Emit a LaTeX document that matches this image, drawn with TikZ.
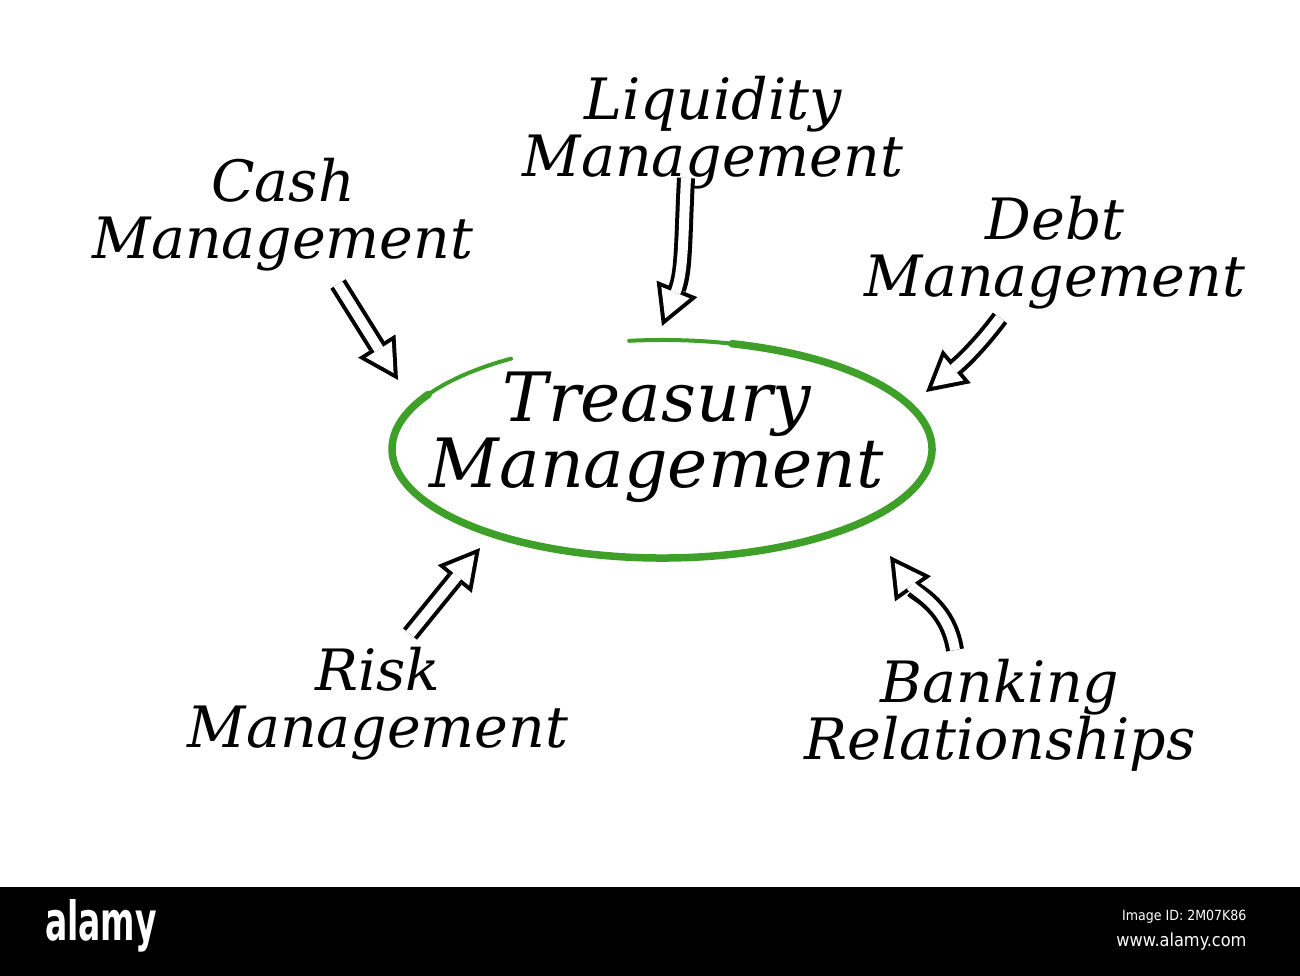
\documentclass[tikz,border=0pt]{standalone}
\usepackage{fontspec}
\setmainfont{DejaVu Serif}
\newfontfamily\bannerfont{DejaVu Sans Condensed}
\usetikzlibrary{arrows.meta,positioning}
\definecolor{ringGreen}{RGB}{62,160,40}

% outlined arrow: black body first, white body on top
\newcommand{\hollowArrow}[3]{%
  \draw[arrowOuter] #1 #2 #3;
  \draw[arrowInner] #1 #2 #3;}

\begin{document}
\begin{tikzpicture}[x=1pt,y=-1pt]
  \tikzstyle{topic} = [align=center, inner sep=0pt, font={\itshape\fontsize{57}{57}\selectfont}]
  \tikzstyle{hub} = [topic, font={\itshape\fontsize{68}{54}\selectfont}]
  \tikzstyle{arrowOuter} = [black, line width=18pt, -{Triangle[length=40pt,width=44pt,line width=0pt]}]
  \tikzstyle{arrowInner} = [white, line width=10pt, shorten >=8.3pt, -{Triangle[length=27.7pt,width=30.5pt,line width=0pt]}]
  \tikzstyle{ring} = [ringGreen, line cap=round];

  \useasboundingbox (0,0) rectangle (1300,976);
  \fill[white] (0,0) rectangle (1300,976);

  \node[hub]   (treasury)  at (657,437) {Treasury\\Management};
  \node[topic] (cash)      at (283,215) {Cash\\Management};
  \node[topic] (liquidity) at (713,133) {Liquidity\\Management};
  \node[topic] (debt)      at (1055,253) {Debt\\Management};
  \node[topic] (risk)      at (378,704) {Risk\\Management};
  \node[topic] (banking)   at (1000,715) {Banking\\Relationships};

  % hand drawn ring round the hub
  \coordinate (ringCentre) at (662,449);
  \draw[ring, line width=4pt] (ringCentre) ++(-97:270 and 109)
    arc[start angle=-97, end angle=236, x radius=270, y radius=109];
  \draw[ring, line width=7.5pt] (ringCentre) ++(-75:270 and 109)
    arc[start angle=-75, end angle=210, x radius=270, y radius=109];

  \coordinate (cashTail)      at (338,284);
  \coordinate (cashTip)       at (398,380);
  \coordinate (liquidityTail) at (686,178);
  \coordinate (liquidityTip)  at (662,326);
  \coordinate (debtTail)      at (1000,318);
  \coordinate (debtTip)       at (926,392);
  \coordinate (riskTail)      at (410,634);
  \coordinate (riskTip)       at (480,548);
  \coordinate (bankingTail)   at (955,650);
  \coordinate (bankingTip)    at (890,556);

  \hollowArrow{(cashTail)}{--}{(cashTip)}
  \hollowArrow{(liquidityTail)}{to[out=-93, in=68]}{(liquidityTip)}
  \hollowArrow{(debtTail)}{to[out=-127, in=40]}{(debtTip)}
  \hollowArrow{(riskTail)}{--}{(riskTip)}
  \hollowArrow{(bankingTail)}{to[out=99, in=-55]}{(bankingTip)}

  % banner
  \fill[black] (0,887) rectangle (1300,976);
  \node[white, font={\bannerfont\bfseries\fontsize{54}{54}\selectfont}, xscale=0.68, transform shape] (brand) at (101,926) {alamy};
  \node[white, font={\bannerfont\fontsize{14}{14}\selectfont}, anchor=east] (imageId) at (1250,917) {Image ID: 2M07K86};
  \node[white, font={\bannerfont\fontsize{18}{18}\selectfont}, anchor=east] (site) at (1250,942) {www.alamy.com};
\end{tikzpicture}
\end{document}
